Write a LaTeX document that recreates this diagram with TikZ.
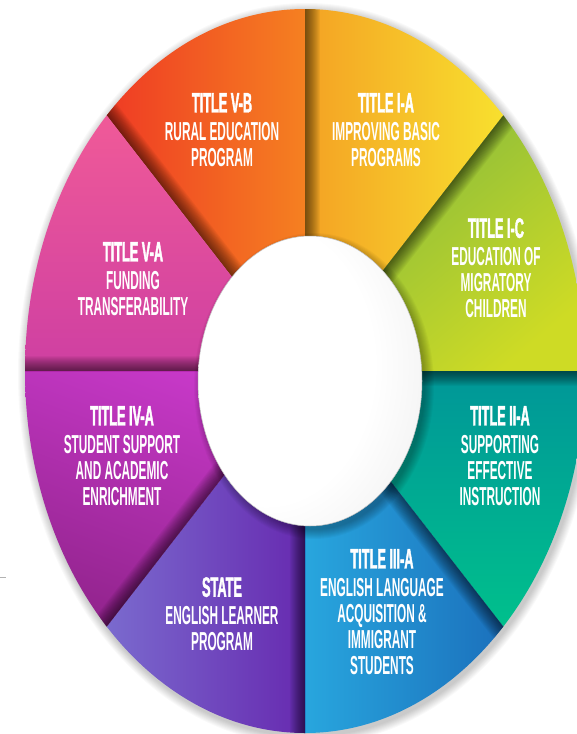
\documentclass[tikz,border=0pt]{standalone}
\usepackage{fontspec}
\newfontfamily\descfont[FakeStretch=0.455]{Liberation Sans Bold}
\newfontfamily\headfont[FakeStretch=0.455,FakeBold=1.5]{Liberation Sans Bold}

% sector colours
\definecolor{vbA}{HTML}{EF3B24}
\definecolor{vbB}{HTML}{F58021}
\definecolor{iaA}{HTML}{F4A224}
\definecolor{iaB}{HTML}{F8E02E}
\definecolor{icA}{HTML}{82B83E}
\definecolor{icB}{HTML}{CEDB25}
\definecolor{iiaA}{HTML}{009698}
\definecolor{iiaB}{HTML}{00C08C}
\definecolor{iiiaA}{HTML}{28A6DE}
\definecolor{iiiaB}{HTML}{1B70BC}
\definecolor{stA}{HTML}{7A6ACE}
\definecolor{stB}{HTML}{672AB0}
\definecolor{ivaA}{HTML}{C839C9}
\definecolor{ivaB}{HTML}{93248E}
\definecolor{vaA}{HTML}{F05A98}
\definecolor{vaB}{HTML}{CE3FA2}

\pgfdeclareradialshading{ovalshade}{\pgfpoint{-14bp}{4bp}}{%
  color(0bp)=(white); color(24bp)=(white); color(42bp)=(black!7);
  color(56bp)=(black!20); color(80bp)=(black!28)}

\tikzset{
  wheellabel/.style={anchor=north, align=center, text=white, inner sep=0pt,
    font=\descfont\fontsize{26}{26}\selectfont},
  vbshade/.style={left color=vbA, right color=vbB},
  iashade/.style={left color=iaA, right color=iaB},
  icshade/.style={top color=icA, bottom color=icB, shading angle=40},
  iiashade/.style={top color=iiaA, bottom color=iiaB},
  iiiashade/.style={left color=iiiaA, right color=iiiaB},
  stshade/.style={left color=stA, right color=stB},
  ivashade/.style={top color=ivaA, bottom color=ivaB, shading angle=-20},
  vashade/.style={top color=vaA, bottom color=vaB},
}

% heading line of a label
\newcommand\hd[1]{{\headfont\fontsize{28}{26}\selectfont #1}\\[2pt]}

% one coloured wedge: start angle, end angle, shading style, box corners;
% the wedge gets a soft shadow along its end-angle edge
\newcommand\paintsector[5]{%
  \begin{scope}
    \clip (c) -- (r#1) -- (r#2) -- cycle;
    \shade[#3] #4 rectangle #5;
    \foreach \w in {2,4,...,30}
      \draw[black, opacity=0.045, line width=\w pt] (c) -- (r#2);
  \end{scope}}

\begin{document}
\begin{tikzpicture}[x=1pt,y=-1pt]
\useasboundingbox (0,0) rectangle (577,734);
\fill[white] (0,0) rectangle (577,734);

\coordinate (c) at (305,371);
\foreach \a in {0,45,...,315}
  \coordinate (r\a) at ({305+450*cos(\a)},{371-580*sin(\a)});

% soft halo round the wheel
\foreach \i in {1,...,9}
  \fill[black, opacity=0.022] (307,374) ellipse [x radius={280+\i}, y radius={362+\i}];

\begin{scope}
  \clip (c) ellipse [x radius=280, y radius=362];
  \paintsector{90}{135}{vbshade}{(107,9)}{(305,371)}
  \paintsector{45}{90}{iashade}{(305,9)}{(503,371)}
  \paintsector{0}{45}{icshade}{(305,115)}{(585,371)}
  \paintsector{315}{0}{iiashade}{(305,371)}{(585,627)}
  \paintsector{270}{315}{iiiashade}{(305,371)}{(503,733)}
  \paintsector{225}{270}{stshade}{(107,371)}{(305,733)}
  \paintsector{180}{225}{ivashade}{(25,371)}{(305,627)}
  \paintsector{135}{180}{vashade}{(25,115)}{(305,371)}
\end{scope}

% white hub with its drop shadow
\foreach \i in {1,...,10}
  \fill[black, opacity=0.03] (314,386) ellipse [x radius={110+\i}, y radius={143+\i}];
\shade[shading=ovalshade] (310,381) ellipse [x radius=112, y radius=145];
\draw[black!25, line width=0.5pt] (310,381) ellipse [x radius=112, y radius=145];

% labels
\node[wheellabel] (vb) at (222,93) {\hd{TITLE V-B}RURAL EDUCATION\\PROGRAM};
\node[wheellabel] (ia) at (386,93) {\hd{TITLE I-A}IMPROVING BASIC\\PROGRAMS};
\node[wheellabel] (va) at (133,242) {\hd{TITLE V-A}FUNDING\\TRANSFERABILITY};
\node[wheellabel] (ic) at (496,218) {\hd{TITLE I-C}EDUCATION OF\\MIGRATORY\\CHILDREN};
\node[wheellabel] (iva) at (122,406) {\hd{TITLE IV-A}STUDENT SUPPORT\\AND ACADEMIC\\ENRICHMENT};
\node[wheellabel] (iia) at (500,406) {\hd{TITLE II-A}SUPPORTING\\EFFECTIVE\\INSTRUCTION};
\node[wheellabel] (st) at (222,577) {\hd{STATE}ENGLISH LEARNER\\PROGRAM};
\node[wheellabel] (iiia) at (382,549) {\hd{TITLE III-A}ENGLISH LANGUAGE\\ACQUISITION \&\\IMMIGRANT\\STUDENTS};

% short tick at the left margin
\draw[black!30, line width=0.8pt] (0,577) -- (6,577);
\end{tikzpicture}
\end{document}
